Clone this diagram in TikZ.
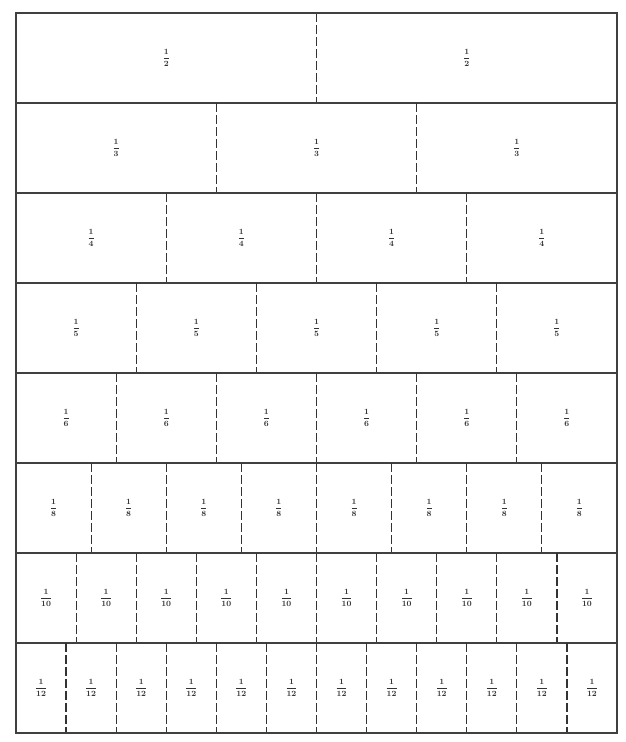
\documentclass[tikz,border=0pt]{standalone}
\begin{document}
\begin{tikzpicture}[x=1pt,y=-1pt,
  wall/.style={line width=1.2pt, draw=black!75},
  divider/.style={line width=1.2pt, draw=black!80, dash pattern=on 9pt off 3pt},
  lab/.style={font=\footnotesize, text=black!80, inner sep=0pt}]
\useasboundingbox (0,0) rectangle (626,742);
\foreach \n [count=\i] in {2,3,4,5,6,8,10,12} {
  \pgfmathsetmacro\ytop{13+(\i-1)*90}
  \pgfmathsetmacro\ybot{\ytop+90}
  \foreach \k in {1,...,\n} {
    \pgfmathsetmacro\xl{16+(\k-1)*601/\n}
    \pgfmathsetmacro\xr{16+\k*601/\n}
    \node[lab] (r\i c\k) at ({(\xl+\xr)/2},{(\ytop+\ybot)/2}) {$\displaystyle\frac{\mathbf{1}}{\mathbf{\n}}$};
  }
  \foreach \k in {2,...,\n} {
    \pgfmathsetmacro\xd{16+(\k-1)*601/\n}
    \draw[divider] (\xd,\ytop) -- (\xd,\ybot);
  }
  \draw[wall] (16,\ybot) -- (617,\ybot);
}
\draw[wall] (16,13) rectangle (617,733);
\end{tikzpicture}
\end{document}
